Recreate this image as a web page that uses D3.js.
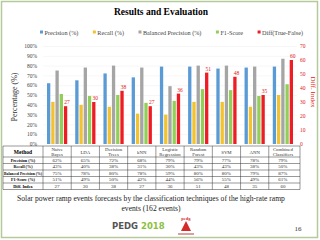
<html>
<head>
    <meta charset="utf-8">
    <style>
        body { margin: 0; background: white; }
        svg { display: block; font-family: "Liberation Serif", "DejaVu Serif", serif; }
    </style>
    <script src="https://d3js.org/d3.v7.min.js"></script>
</head>
<body>
<svg id="slide" width="320" height="240"></svg>
<script>
    // chart values
    let methods = [["Naïve", "Bayes"], ["LDA"], ["Decision", "Trees"], ["kNN"], ["Logistic", "Regression"],
                   ["Random", "Forest"], ["SVM"], ["ANN"], ["Combined", "Classifiers"]]
    let precision = [62, 65, 72, 68, 79, 79, 77, 78, 79]
    let recall = [43, 40, 38, 31, 30, 43, 43, 38, 50]
    let balanced = [75, 78, 80, 78, 59, 80, 80, 79, 87]
    let f1 = [51, 49, 50, 42, 44, 56, 55, 49, 61]
    let diff = [27, 30, 38, 27, 36, 51, 48, 35, 60]
    let seriesNames = ["Precision (%)", "Recall (%)", "Balanced Precision (%)", "F1-Score", "Diff(True-False)"]
    let rowNames = ["Precision (%)", "Recall (%)", "Balanced Precision (%)", "F1-Score (%)", "Diff. Index"]
    let pctTicks = [0, 10, 20, 30, 40, 50, 60, 70, 80, 90, 100]
    let diffTicks = [0, 10, 20, 30, 40, 50, 60, 70]

    let colors = ["#5b9bd5", "#f2c230", "#a5a5a5", "#92cf5a", "#ee1c25"]
    let svg = d3.select("#slide")

    // slide frame
    svg.append("rect").attr("x", 1.5).attr("y", 1.5).attr("width", 316).attr("height", 236)
        .attr("fill", "white").attr("stroke", "#b5c99a").attr("stroke-width", 1.5)

    svg.append("text").attr("x", 161).attr("y", 15).attr("text-anchor", "middle")
        .attr("font-size", 9.5).attr("font-weight", "bold").text("Results and Evaluation")

    // scales
    let plotL = 43, plotR = 297, plotT = 46, plotB = 144
    let x = d3.scaleBand().domain(d3.range(methods.length)).range([plotL, plotR])
    let inner = d3.scaleBand().domain(d3.range(5)).range([4, x.bandwidth() - 4]).paddingInner(0.22)
    let y = d3.scaleLinear().domain([0, 100]).range([plotB, plotT])
    let y2 = d3.scaleLinear().domain([0, 70]).range([plotB, plotT])

    // gridlines
    svg.append("g").selectAll("line").data(pctTicks.slice(1)).join("line")
        .attr("x1", plotL).attr("x2", plotR).attr("y1", d => y(d) + 0.5).attr("y2", d => y(d) + 0.5)
        .attr("stroke", "#f0f0f0").attr("stroke-width", 0.6)

    // left axis
    let axisL = svg.append("g").attr("transform", `translate(${plotL - 5},0)`)
        .call(d3.axisLeft(y).tickValues(pctTicks).tickFormat(d => d + "%").tickSize(0).tickPadding(1))
    axisL.select(".domain").remove()
    axisL.selectAll("text").attr("font-size", 5.5).attr("fill", "#444").attr("font-family", "Liberation Serif, serif")

    // right axis
    let axisR = svg.append("g").attr("transform", `translate(${plotR},0)`)
        .call(d3.axisRight(y2).tickValues(diffTicks).tickSize(0).tickPadding(3))
    axisR.select(".domain").remove()
    axisR.selectAll("text").attr("font-size", 5.5).attr("fill", "#e02020").attr("font-family", "Liberation Serif, serif")

    svg.append("text").attr("transform", "translate(17,97) rotate(-90)").attr("text-anchor", "middle")
        .attr("font-size", 8).attr("fill", "#333").text("Percentage (%)")
    svg.append("text").attr("transform", "translate(311,92) rotate(90)").attr("text-anchor", "middle")
        .attr("font-size", 7).attr("fill", "#e02020").text("Diff. Index")

    // bars
    let series = [precision, recall, balanced, f1]
    let groups = svg.append("g").selectAll("g").data(methods).join("g")
        .attr("transform", (d, i) => `translate(${x(i)},0)`)
    series.forEach((vals, s) => {
        groups.append("rect")
            .attr("x", inner(s)).attr("width", inner.bandwidth())
            .attr("y", (d, i) => y(vals[i])).attr("height", (d, i) => plotB - y(vals[i]))
            .attr("fill", colors[s])
    })
    groups.append("rect")
        .attr("x", inner(4)).attr("width", inner.bandwidth())
        .attr("y", (d, i) => y2(diff[i])).attr("height", (d, i) => plotB - y2(diff[i]))
        .attr("fill", colors[4])
    groups.append("text")
        .attr("x", inner(4) + inner.bandwidth() / 2 + 1.5).attr("y", (d, i) => y2(diff[i]) - 2)
        .attr("text-anchor", "middle").attr("font-size", 5.5).attr("fill", "#e02020")
        .text((d, i) => diff[i])

    // legend, laid out left to right from measured text widths
    let legend = svg.append("g").attr("transform", "translate(0,33)")
    let items = legend.selectAll("g").data(seriesNames).join("g")
    items.append("rect").attr("x", 0).attr("y", -2.5).attr("width", 3).attr("height", 3)
        .attr("fill", (d, i) => colors[i])
    items.append("text").attr("x", 4.5).attr("y", 2).attr("font-size", 6.2).attr("fill", "#444").text(d => d)
    let widths = items.nodes().map(n => n.querySelector("text").getComputedTextLength() + 4.5)
    let gap = (303 - 40 - d3.sum(widths)) / (widths.length - 1)
    let cursor = 40
    items.attr("transform", (d, i) => {
        let t = `translate(${cursor},0)`
        cursor += widths[i] + gap
        return t
    })

    // data table
    let tableTop = 146, headH = 11, rowH = 6.5, tLeft = 3
    let rows = [precision, recall, balanced, f1, diff]
    let tableBottom = tableTop + headH + rowH * rows.length
    let table = svg.append("g").attr("stroke", "#333").attr("stroke-width", 0.5)
    d3.range(rows.length + 1).forEach(r => {
        let yy = tableTop + headH + r * rowH
        table.append("line").attr("x1", tLeft).attr("x2", plotR + 3).attr("y1", yy).attr("y2", yy)
    })
    table.append("line").attr("x1", tLeft).attr("x2", plotR + 3).attr("y1", tableTop).attr("y2", tableTop)
    table.append("line").attr("x1", tLeft).attr("x2", tLeft).attr("y1", tableTop).attr("y2", tableBottom)
    d3.range(methods.length + 1).forEach(c => {
        let xx = c === methods.length ? plotR + 3 : x(c)
        table.append("line").attr("x1", xx).attr("x2", xx).attr("y1", tableTop).attr("y2", tableBottom)
    })

    svg.append("text").attr("x", (tLeft + plotL) / 2).attr("y", tableTop + 7.5).attr("text-anchor", "middle")
        .attr("font-size", 5.5).attr("font-weight", "bold").text("Method")
    methods.forEach((m, i) => {
        let cx = x(i) + x.bandwidth() / 2
        m.forEach((line, j) => {
            let yy = m.length === 1 ? tableTop + 7.5 : tableTop + 4.8 + j * 5
            svg.append("text").attr("x", cx).attr("y", yy).attr("text-anchor", "middle")
                .attr("font-size", 4.8).attr("fill", "#333").text(line)
        })
    })
    rowNames.forEach((name, r) => {
        let yy = tableTop + headH + r * rowH + 4.7
        let label = svg.append("text").attr("x", (tLeft + plotL) / 2).attr("y", yy).attr("text-anchor", "middle")
            .attr("font-size", 4.2).attr("font-weight", "bold").text(name)
        if (label.node().getComputedTextLength() > 38) {
            label.attr("textLength", 38).attr("lengthAdjust", "spacingAndGlyphs")
        }
        rows[r].forEach((v, i) => {
            svg.append("text").attr("x", x(i) + x.bandwidth() / 2).attr("y", yy).attr("text-anchor", "middle")
                .attr("font-size", 5).attr("fill", "#333").text(r === 4 ? v : v + "%")
        })
    })

    // caption
    svg.append("text").attr("x", 151).attr("y", 201).attr("text-anchor", "middle").attr("font-size", 7.6)
        .attr("fill", "#222").text("Solar power ramp events forecasts by the classification techniques of the high-rate ramp")
    svg.append("text").attr("x", 151).attr("y", 211).attr("text-anchor", "middle").attr("font-size", 7.6)
        .attr("fill", "#222").text("events (162 events)")

    // footer
    let foot = svg.append("text").attr("x", 112).attr("y", 229).attr("font-size", 8.5)
        .attr("font-family", "DejaVu Sans, sans-serif").attr("font-weight", "bold")
    foot.append("tspan").attr("fill", "#555").text("PEDG ")
    foot.append("tspan").attr("fill", "#8cbf3f").text("2018")
    svg.append("text").attr("x", 186).attr("y", 220).attr("text-anchor", "middle").attr("font-size", 4.5)
        .attr("font-weight", "bold").attr("fill", "#d42a2a").text("pedg")
    svg.append("path").attr("d", "M186,221 L181,231 L191,231 Z").attr("fill", "#d42a2a")
    svg.append("rect").attr("x", 178).attr("y", 233).attr("width", 16).attr("height", 2).attr("fill", "#d9a0a0")
    svg.append("text").attr("x", 298).attr("y", 231).attr("text-anchor", "middle").attr("font-size", 7)
        .attr("fill", "#333").text("16")
</script>
</body>
</html>
